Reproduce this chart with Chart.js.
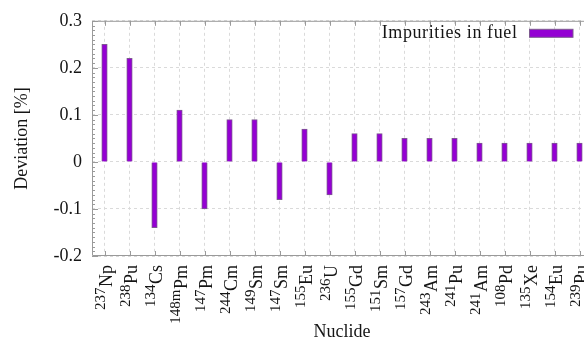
<!DOCTYPE html>
<html>
<head>
<meta charset="utf-8">
<script src="https://cdn.jsdelivr.net/npm/chart.js@4/dist/chart.umd.min.js"></script>
<style>
  html, body { margin: 0; padding: 0; overflow: hidden; background: #fff; }
  #wrap { width: 596px; height: 338px; }
</style>
</head>
<body>
<div id="wrap"><canvas id="chart" width="596" height="338"></canvas></div>
<script>
// Nuclides: mass number (drawn as superscript) and element symbol
const massNumbers = ['237', '238', '134', '148m', '147', '244', '149', '147', '155', '236',
                     '155', '151', '157', '243', '241', '241', '108', '135', '154', '239'];
const elements    = ['Np', 'Pu', 'Cs', 'Pm', 'Pm', 'Cm', 'Sm', 'Sm', 'Eu', 'U',
                     'Gd', 'Sm', 'Gd', 'Am', 'Pu', 'Am', 'Pd', 'Xe', 'Eu', 'Pu'];
// Deviation in percent
const deviations  = [0.25, 0.22, -0.14, 0.11, -0.10, 0.09, 0.09, -0.08, 0.07, -0.07,
                     0.06, 0.06, 0.05, 0.05, 0.05, 0.04, 0.04, 0.04, 0.04, 0.04];
const yTickValues = [-0.2, -0.1, 0, 0.1, 0.2, 0.3];
const seriesName  = 'Impurities in fuel';
const xTitle = 'Nuclide';
const yTitle = 'Deviation [%]';

const nuclides = massNumbers.map((m, i) => m + elements[i]);

const SERIF = "'Liberation Serif', 'Times New Roman', serif";
const TEXT = '#151515';
const FRAME = '#9a9a9a';
const GRID = '#dadada';
const BAR = '#9400d3';
const BAR_EDGE = '#7d5a90';

// Frame and inward tick marks (major and minor on y, per category on x)
const framePlugin = {
  id: 'frame',
  afterDatasetsDraw(chart) {
    const { ctx, chartArea: a, scales: { x, y } } = chart;
    ctx.save();
    ctx.strokeStyle = FRAME;
    ctx.lineWidth = 1;
    ctx.beginPath();
    ctx.rect(a.left + 0.5, a.top + 0.5, a.right - a.left - 1, a.bottom - a.top - 1);
    const lo = Math.round(yTickValues[0] * 100);
    const hi = Math.round(yTickValues[yTickValues.length - 1] * 100);
    for (let k = lo; k <= hi; k++) {
      const py = Math.round(y.getPixelForValue(k / 100)) + 0.5;
      const len = k % 10 === 0 ? 6 : 3;
      ctx.moveTo(a.left, py); ctx.lineTo(a.left + len, py);
      ctx.moveTo(a.right, py); ctx.lineTo(a.right - len, py);
    }
    for (let i = 0; i < nuclides.length; i++) {
      const px = Math.round(x.getPixelForValue(i)) + 0.5;
      ctx.moveTo(px, a.bottom); ctx.lineTo(px, a.bottom - 5);
      ctx.moveTo(px, a.top); ctx.lineTo(px, a.top + 5);
    }
    ctx.stroke();
    ctx.restore();
  }
};

// Rotated nuclide labels with superscript mass numbers
const nuclideLabelPlugin = {
  id: 'nuclideLabels',
  afterDraw(chart) {
    const { ctx, chartArea: a, scales: { x } } = chart;
    ctx.save();
    ctx.fillStyle = TEXT;
    ctx.textBaseline = 'alphabetic';
    ctx.textAlign = 'left';
    for (let i = 0; i < nuclides.length; i++) {
      const px = x.getPixelForValue(i);
      ctx.save();
      ctx.translate(px + 7, a.bottom + 9);
      ctx.rotate(-Math.PI / 2);
      ctx.font = `18px ${SERIF}`;
      const wMain = ctx.measureText(elements[i]).width;
      ctx.font = `15px ${SERIF}`;
      const wSup = ctx.measureText(massNumbers[i]).width;
      ctx.fillText(massNumbers[i], -(wMain + wSup + 0.5), -6.5);
      ctx.font = `18px ${SERIF}`;
      ctx.fillText(elements[i], -wMain, 0);
      ctx.restore();
    }
    ctx.restore();
  }
};

// Key in the top right corner of the plot: label then swatch
const keyPlugin = {
  id: 'key',
  afterDraw(chart) {
    const { ctx, chartArea: a } = chart;
    const ds = chart.data.datasets[0];
    const sx = a.right - 62.5, sy = a.top + 8.5, sw = 43.5, sh = 8;
    ctx.save();
    ctx.fillStyle = ds.backgroundColor;
    ctx.fillRect(sx, sy, sw, sh);
    ctx.strokeStyle = ds.borderColor;
    ctx.lineWidth = 1;
    ctx.strokeRect(sx, sy, sw, sh);
    ctx.fillStyle = TEXT;
    ctx.font = `18px ${SERIF}`;
    ctx.letterSpacing = '0.6px';
    ctx.textAlign = 'right';
    ctx.textBaseline = 'alphabetic';
    ctx.fillText(ds.label, sx - 12, a.top + 17);
    ctx.restore();
  }
};

new Chart(document.getElementById('chart'), {
  type: 'bar',
  data: {
    labels: nuclides,
    datasets: [{
      label: seriesName,
      data: deviations,
      backgroundColor: BAR,
      borderColor: BAR_EDGE,
      borderWidth: 1,
      barThickness: 5.5
    }]
  },
  options: {
    responsive: false,
    animation: false,
    devicePixelRatio: 1,
    layout: { padding: { top: 19, right: 4, bottom: 0, left: 0 } },
    plugins: { legend: { display: false }, tooltip: { enabled: false } },
    scales: {
      x: {
        type: 'category',
        offset: true,
        grid: { offset: false, color: GRID, lineWidth: 1, drawTicks: false },
        border: { display: false, dash: [3, 3] },
        ticks: { display: false, autoSkip: false },
        title: {
          display: true, text: xTitle, color: TEXT,
          font: { family: SERIF, size: 18, lineHeight: 1 },
          padding: { top: 0, bottom: -3.5 }
        },
        afterFit(scale) { scale.height = 82; }
      },
      y: {
        min: yTickValues[0],
        max: yTickValues[yTickValues.length - 1],
        afterBuildTicks(scale) { scale.ticks = yTickValues.map(v => ({ value: v })); },
        grid: { color: GRID, lineWidth: 1, drawTicks: false },
        border: { display: false, dash: [3, 3] },
        ticks: {
          color: TEXT, padding: 10,
          font: { family: SERIF, size: 18 },
          callback: v => String(Number(v.toFixed(1)))
        },
        title: {
          display: true, text: yTitle, color: TEXT,
          font: { family: SERIF, size: 18, lineHeight: 1.2 },
          padding: { top: 11, bottom: 0 }
        },
        afterFit(scale) { scale.width = 92; }
      }
    }
  },
  plugins: [framePlugin, nuclideLabelPlugin, keyPlugin]
});
</script>
</body>
</html>
